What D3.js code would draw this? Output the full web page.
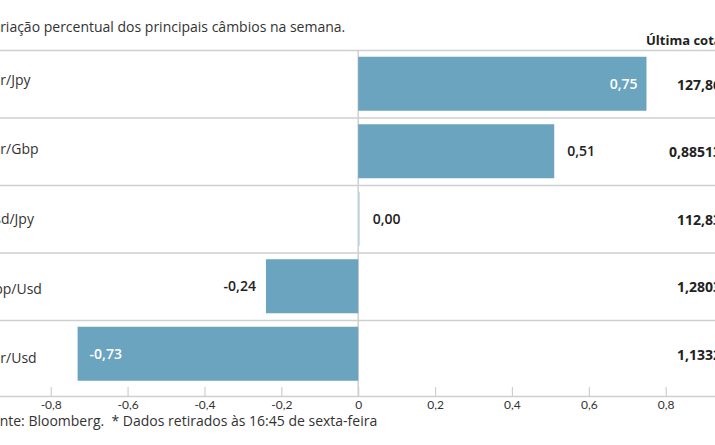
<!DOCTYPE html>
<html><head><meta charset="utf-8">
<script src="https://cdn.jsdelivr.net/npm/d3@7"></script>
<style>
body{margin:0;background:#fff;}
svg{display:block;font-family:"Open Sans",sans-serif;}
</style></head>
<body><svg id="c" width="715" height="445"></svg>
<script>
const categories = ["Eur/Jpy","Eur/Gbp","Usd/Jpy","Gbp/Usd","Eur/Usd"];
const values = [0.75, 0.51, 0.004, -0.24, -0.73];
const lastQuotes = ["127,86","0,88513","112,83","1,2803","1,1332"];
const tickValues = [-0.8,-0.6,-0.4,-0.2,0,0.2,0.4,0.6,0.8];
const title = "Variação percentual dos principais câmbios na semana.";
const quoteHeader = "Última cotação";
const footer = "Fonte: Bloomberg.\u00a0 * Dados retirados às 16:45 de sexta-feira";

const loc = d3.formatLocale({decimal:",",thousands:".",grouping:[3],currency:["","€"],minus:"-"});
const fmt2 = loc.format(".2f");
const tickFmt = d => d === 0 ? "0" : loc.format(".1f")(d);

const svg = d3.select("#c");
const x = d3.scaleLinear().domain([-0.8,0.8]).range([50.7,665.7]);
const rows = d3.scaleBand().domain(categories).range([50,387.5]).padding(0);
const labelRows = d3.scaleBand().domain(categories).range([45,393]).padding(0);
const bars = d3.scaleBand().domain(categories).range([50,387.5]).paddingInner(0.2).paddingOuter(0.1);
const barColor = "#6aa4bf";
const grid = "#cfcfcf";

// title
svg.append("text").attr("x",-16).attr("y",32).attr("font-size",14).attr("fill","#333").text(title);
svg.append("text").attr("x",646).attr("y",45).attr("font-size",13).attr("font-weight",700).attr("fill","#222").text(quoteHeader);

// row lines
svg.append("g").selectAll("line").data(categories).join("line")
  .attr("x1",0).attr("x2",715)
  .attr("y1",d=>rows(d)+0.5).attr("y2",d=>rows(d)+0.5)
  .attr("stroke",grid).attr("stroke-width",1.5);

// zero line
svg.append("line").attr("x1",x(0)).attr("x2",x(0)).attr("y1",50).attr("y2",396)
  .attr("stroke",grid).attr("stroke-width",1.5);

// bars
svg.append("g").selectAll("rect").data(values).join("rect")
  .attr("x",d=>Math.min(x(0),x(d)))
  .attr("width",d=>Math.abs(x(d)-x(0)))
  .attr("y",(d,i)=>bars(categories[i]))
  .attr("height",bars.bandwidth())
  .attr("fill",(d,i)=> Math.abs(d) < 0.01 ? "#b9d5e3" : barColor);

// category labels
svg.append("g").selectAll("text").data(categories).join("text")
  .attr("x",-16).attr("y",d=>labelRows(d)+labelRows.bandwidth()/2)
  .attr("dy","0.35em").attr("font-size",14).attr("fill","#333").text(d=>d);

// value labels
svg.append("g").selectAll("text").data(values).join("text")
  .attr("font-size",14).attr("font-weight",600)
  .attr("y",(d,i)=>rows(categories[i])+rows.bandwidth()/2)
  .attr("dy","0.35em")
  .each(function(d){
    const inside = Math.abs(d) > 0.6;
    const s = d3.select(this);
    if (d >= 0) {
      if (inside) s.attr("x",x(d)-9).attr("text-anchor","end").attr("fill","#fff");
      else s.attr("x",x(d)+13).attr("text-anchor","start").attr("fill","#222");
    } else {
      if (inside) s.attr("x",x(d)+12).attr("text-anchor","start").attr("fill","#fff");
      else s.attr("x",x(d)-10).attr("text-anchor","end").attr("fill","#222");
    }
  })
  .text(d=>fmt2(d));

// last quotes
svg.append("g").selectAll("text").data(lastQuotes).join("text")
  .attr("x",721).attr("text-anchor","end")
  .attr("y",(d,i)=>rows(categories[i])+rows.bandwidth()/2+1)
  .attr("dy","0.35em").attr("font-size",14).attr("font-weight",700).attr("fill","#222")
  .text(d=>d);

// axis
const axis = svg.append("g").attr("transform","translate(0,396)")
  .call(d3.axisBottom(x).tickValues(tickValues).tickFormat(tickFmt).tickSize(-9).tickPadding(4));
axis.select(".domain").remove();
axis.selectAll(".tick line").attr("stroke",grid).attr("stroke-width",1.2);
axis.selectAll(".tick text").attr("font-family","Lato, sans-serif").attr("font-size",12).attr("fill","#333");
svg.append("line").attr("x1",0).attr("x2",715).attr("y1",396.5).attr("y2",396.5).attr("stroke",grid).attr("stroke-width",1.5);

// footer
svg.append("text").attr("x",-16).attr("y",426).attr("font-size",14).attr("fill","#333").text(footer);
</script></body></html>
